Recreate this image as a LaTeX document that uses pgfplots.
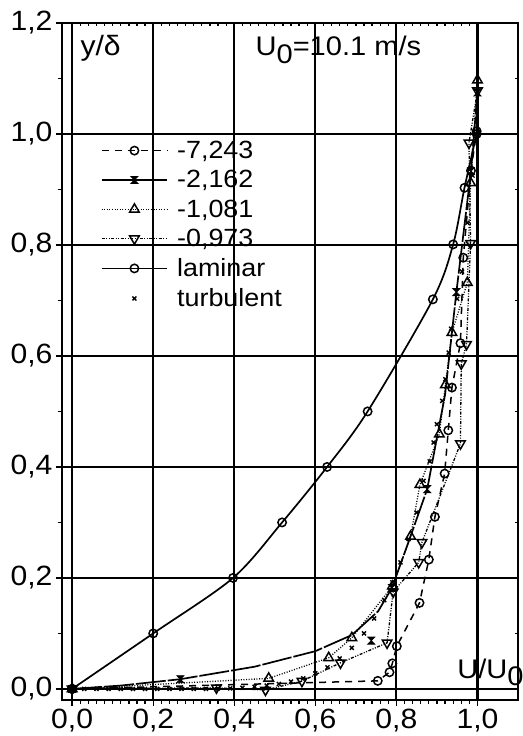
\documentclass[border=0pt]{standalone}
\usepackage{fontspec}
\setmainfont{Liberation Sans}[FakeStretch=1.08]
\usepackage{pgfplots}
\pgfplotsset{compat=1.18}

% hourglass marker for the -2,162 series
\pgfdeclareplotmark{hourglass}{%
  \pgfpathmoveto{\pgfqpoint{-\pgfplotmarksize}{\pgfplotmarksize}}%
  \pgfpathlineto{\pgfqpoint{\pgfplotmarksize}{\pgfplotmarksize}}%
  \pgfpathlineto{\pgfqpoint{-\pgfplotmarksize}{-\pgfplotmarksize}}%
  \pgfpathlineto{\pgfqpoint{\pgfplotmarksize}{-\pgfplotmarksize}}%
  \pgfpathclose
  \pgfusepathqfillstroke}

\newcommand{\legtxt}[1]{\hspace{7bp}#1}

\begin{document}
\begin{tikzpicture}
% page = 523 x 736, axis box 456 x 677 placed at the origin
\useasboundingbox (-62bp,-36bp) rectangle (461bp,700bp);
\pgfplotsset{
  frame/.style={
    scale only axis, width=456bp, height=677bp,
    at={(0,0)}, anchor=south west,
    xmin=-0.025, xmax=1.1, ymin=-0.02, ymax=1.2,
    xtick={0,0.2,0.4,0.6,0.8,1.0},
    ytick={0,0.2,0.4,0.6,0.8,1.0,1.2},
    minor x tick num=9, minor y tick num=1,
    major tick length=6bp, minor tick length=3.5bp,
    every tick/.style={black, line width=1.3bp},
    axis line style={line width=2.1bp},
  }
}
\begin{axis}[frame,
  tick align=outside, xtick pos=bottom, ytick pos=left,
  grid=major, major grid style={black, line width=2.1bp},
  tick label style={font=\fontsize{28}{30}\selectfont},
  /pgf/number format/.cd, use comma, fixed, fixed zerofill, precision=1,
  assume math mode=true,
  /pgfplots/.cd,
  clip=false,
  legend style={at={(axis cs:0.07,0.991)}, anchor=north west, draw=none,
    fill=none, font=\fontsize{25}{27}\selectfont, row sep=6.5bp,
    inner sep=0pt, legend cell align=left},
  legend image code/.code={%
    \draw[#1, mark repeat=2, mark phase=2]
      plot coordinates {(0pt,0pt) (33pt,0pt) (66pt,0pt)};},
]

% -7,243
\addplot[black, line width=1.5bp, dash pattern=on 7bp off 6bp,
  mark=o, mark size=4.2bp, mark options={solid, line width=1.5bp}]
  coordinates {
  (0,0) (0.754,0.0145) (0.783,0.030) (0.790,0.046) (0.801,0.077)
  (0.857,0.155) (0.880,0.233) (0.895,0.310) (0.919,0.388) (0.928,0.466)
  (0.937,0.543) (0.958,0.623) (0.965,0.777) (0.984,0.934) (0.998,1.005)
};
\addlegendentry{\legtxt{-7,243}}

% -2,162: line, then its marks
\addplot[black, line width=1.7bp, dash pattern=on 30bp off 2bp,
  forget plot]
  coordinates {
  (0,0) (0.12,0.006) (0.267,0.0175) (0.45,0.040) (0.60,0.068)
  (0.69,0.097) (0.755,0.140) (0.789,0.182) (0.83,0.265) (0.876,0.360)
  (0.92,0.530) (0.948,0.715) (0.984,0.933) (1.0,1.075)
};
\addplot[black, only marks, mark=hourglass, mark size=3.5bp,
  mark options={solid, line width=0.8bp}, forget plot]
  coordinates {
  (0,0) (0.267,0.0175) (0.738,0.087) (0.789,0.182) (0.876,0.360)
  (0.948,0.715) (0.984,0.933) (1.0,1.075)
};
\addlegendimage{black, line width=1.7bp, mark=hourglass, mark size=3.5bp,
  mark options={solid, line width=0.8bp}}
\addlegendentry{\legtxt{-2,162}}

% -1,081
\addplot[black, line width=1.3bp, dash pattern=on 1bp off 1.6bp,
  mark=triangle, mark size=5.5bp, mark options={solid, line width=1.5bp}]
  coordinates {
  (0,0) (0.485,0.019) (0.633,0.056) (0.690,0.092) (0.790,0.185)
  (0.835,0.275) (0.858,0.368) (0.906,0.459) (0.921,0.548) (0.937,0.642)
  (0.975,0.732) (0.983,0.912) (1.0,1.097)
};
\addlegendentry{\legtxt{-1,081}}

% -0,973
\addplot[black, line width=1.3bp,
  dash pattern=on 3bp off 1.5bp on 1bp off 1.5bp on 1bp off 1.5bp,
  mark=triangle, mark size=5.5bp,
  mark options={solid, rotate=180, line width=1.5bp}]
  coordinates {
  (0,0) (0.356,0.002) (0.477,-0.002) (0.567,0.014) (0.662,0.047)
  (0.777,0.083) (0.792,0.175) (0.855,0.228) (0.863,0.264) (0.958,0.442)
  (0.960,0.586) (0.973,0.621) (0.983,0.803) (0.979,0.984) (1.0,1.078)
};
\addlegendentry{\legtxt{-0,973}}

% laminar
\addplot[black, line width=1.7bp, smooth,
  mark=o, mark size=4.2bp, mark options={line width=1.5bp}]
  coordinates {
  (0,0) (0.200,0.100) (0.397,0.200) (0.518,0.300) (0.629,0.400)
  (0.729,0.500) (0.890,0.702) (0.940,0.801) (0.968,0.903) (0.998,1.000)
};
\addlegendentry{\legtxt{laminar}}

% turbulent
\addplot[black, only marks, mark=x, mark size=2.8bp,
  mark options={line width=1.4bp}]
  coordinates {
  (0.00,0.000) (0.03,0.000) (0.06,0.000) (0.09,0.000) (0.12,0.000)
  (0.15,0.000) (0.18,0.000) (0.21,0.000) (0.24,0.000) (0.27,0.000)
  (0.30,0.000) (0.33,0.000) (0.36,0.001) (0.39,0.001) (0.42,0.002)
  (0.45,0.004) (0.48,0.006) (0.51,0.009) (0.54,0.013) (0.57,0.019)
  (0.60,0.028) (0.63,0.039) (0.66,0.055) (0.69,0.074) (0.72,0.100)
  (0.745,0.127) (0.77,0.160) (0.79,0.192) (0.81,0.228) (0.83,0.270)
  (0.85,0.318) (0.867,0.375) (0.882,0.410) (0.892,0.444) (0.900,0.477)
  (0.913,0.519) (0.921,0.558) (0.929,0.606) (0.935,0.649) (0.950,0.703)
  (0.962,0.752) (0.975,0.840) (0.988,0.925) (1.0,1.0)
};
\addlegendentry{\legtxt{turbulent}}

\node[anchor=base west, font=\fontsize{28}{30}\selectfont]
  at (axis cs:0.012,1.142) {y/δ};
\node[anchor=base west, font=\fontsize{27}{30}\selectfont]
  at (axis cs:0.444,1.142) {U\raisebox{-8bp}{0}=10.1 m/s};
\node[anchor=base west, font=\fontsize{27}{30}\selectfont, inner sep=0pt]
  at (axis cs:0.950,0.018) {U/U\raisebox{-7bp}{0}};
\end{axis}

\begin{axis}[frame, tick align=inside, xtick pos=top, ytick pos=right,
  xticklabels={}, yticklabels={}]
\end{axis}
\end{tikzpicture}
\end{document}
